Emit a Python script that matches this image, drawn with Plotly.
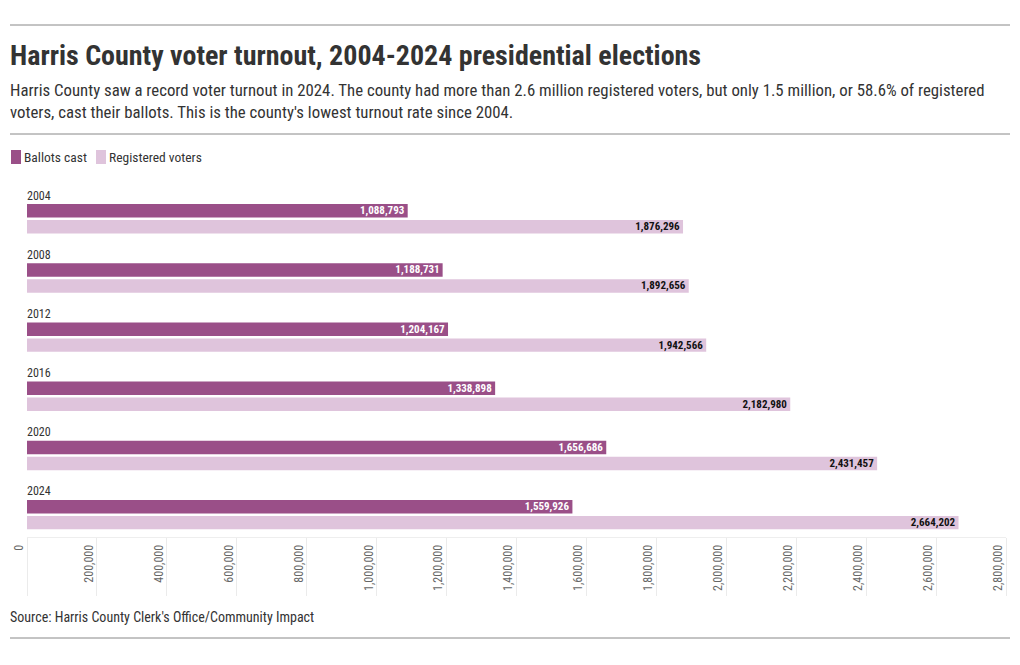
import plotly.graph_objects as go

years = ["2004", "2008", "2012", "2016", "2020", "2024"]
ballots_cast = [1088793, 1188731, 1204167, 1338898, 1656686, 1559926]
registered_voters = [1876296, 1892656, 1942566, 2182980, 2431457, 2664202]
tick_values = [0, 200000, 400000, 600000, 800000, 1000000, 1200000, 1400000,
               1600000, 1800000, 2000000, 2200000, 2400000, 2600000, 2800000]
series_names = ["Ballots cast", "Registered voters"]

# page body has an 8px margin; figure sized to fit the 1020x665 window
OFF = 8
W, H = 1004, 649
ML, MR, MT, MB = 19, 6, 174, 120
PH = H - MT - MB

FONT = "Roboto Condensed, Liberation Sans Narrow, Roboto, sans-serif"
DARK = "#9a4f88"
LIGHT = "#dfc4dc"


def py(p):
    """screen y -> paper y"""
    return (H - MB - (p - OFF)) / PH


def px(p):
    """screen x -> paper x"""
    return (p - OFF - ML) / (W - ML - MR)


fig = go.Figure()
fig.add_trace(go.Bar(
    name=series_names[0], y=years, x=ballots_cast, orientation="h",
    marker=dict(color=DARK, line=dict(width=0)),
    width=0.228, offset=-0.127,
    text=[f"{v:,}" for v in ballots_cast], textposition="inside",
    insidetextanchor="end",
    textfont=dict(family=FONT, size=11, color="white", weight="bold"),
    hoverinfo="skip", showlegend=False,
))
fig.add_trace(go.Bar(
    name=series_names[1], y=years, x=registered_voters, orientation="h",
    marker=dict(color=LIGHT, line=dict(width=0)),
    width=0.228, offset=0.143,
    text=[f"{v:,}" for v in registered_voters], textposition="inside",
    insidetextanchor="end",
    textfont=dict(family=FONT, size=11, color="#111", weight="bold"),
    hoverinfo="skip", showlegend=False,
))

annotations = []
for i, y in enumerate(years):
    annotations.append(dict(x=0, y=i, xref="x", yref="y", text=y, showarrow=False,
                            xanchor="left", yanchor="middle", yshift=16, xshift=-2,
                            font=dict(family=FONT, size=12, color="#333")))

annotations += [
    dict(x=px(8), y=py(55), xref="paper", yref="paper", xanchor="left", yanchor="middle",
         showarrow=False, text="<b>Harris County voter turnout, 2004-2024 presidential elections</b>",
         font=dict(family=FONT, size=28, color="#333")),
    dict(x=px(8), y=py(100.5), xref="paper", yref="paper", xanchor="left", yanchor="middle",
         showarrow=False, align="left",
         text="Harris County saw a record voter turnout in 2024. The county had more than 2.6 million registered voters, but only 1.5 million, or 58.6% of registered<br>voters, cast their ballots. This is the county's lowest turnout rate since 2004.",
         font=dict(family=FONT, size=16.8, color="#333")),
    dict(x=px(8), y=py(617), xref="paper", yref="paper", xanchor="left", yanchor="middle",
         showarrow=False, text="Source: Harris County Clerk's Office/Community Impact",
         font=dict(family=FONT, size=14, color="#333")),
]

shapes = []
for yy in [25, 134, 638]:
    shapes.append(dict(type="line", xref="paper", yref="paper", x0=px(10), x1=px(1010),
                       y0=py(yy), y1=py(yy), line=dict(color="#888", width=1)))

# legend (swatch + label)
legend_items = [(11, 22, DARK, series_names[0]), (96, 107, LIGHT, series_names[1])]
for x0, tx, col, name in legend_items:
    shapes.append(dict(type="rect", xref="paper", yref="paper", x0=px(x0), x1=px(x0 + 10),
                       y0=py(164), y1=py(150), fillcolor=col, line=dict(width=0)))
    annotations.append(dict(x=px(tx), y=py(157), xref="paper", yref="paper", xanchor="left",
                            yanchor="middle", showarrow=False, text=name,
                            font=dict(family=FONT, size=13.5, color="#333")))

fig.update_layout(
    width=W, height=H,
    margin=dict(l=ML, r=MR, t=MT, b=MB, autoexpand=False),
    paper_bgcolor="white", plot_bgcolor="white",
    barmode="overlay",
    showlegend=False,
    xaxis=dict(range=[0, 2800000], tickvals=tick_values, tickformat=",",
               tickangle=-90, showgrid=False, zeroline=False, automargin=False,
               ticks="outside", ticklen=58, tickcolor="#ebebeb", tickwidth=1,
               ticklabelstandoff=-56, ticklabelshift=-8,
               showline=True, linecolor="#eeeeee", linewidth=1,
               tickfont=dict(family=FONT, size=12, color="#666")),
    yaxis=dict(categoryorder="array", categoryarray=years, range=[5.5, -0.5],
               showticklabels=False, showgrid=False, zeroline=False, ticks="",
               automargin=False),
    annotations=annotations,
    shapes=shapes,
    font=dict(family=FONT),
    uniformtext=dict(minsize=11, mode="show"),
)

fig.write_html("out.html")
